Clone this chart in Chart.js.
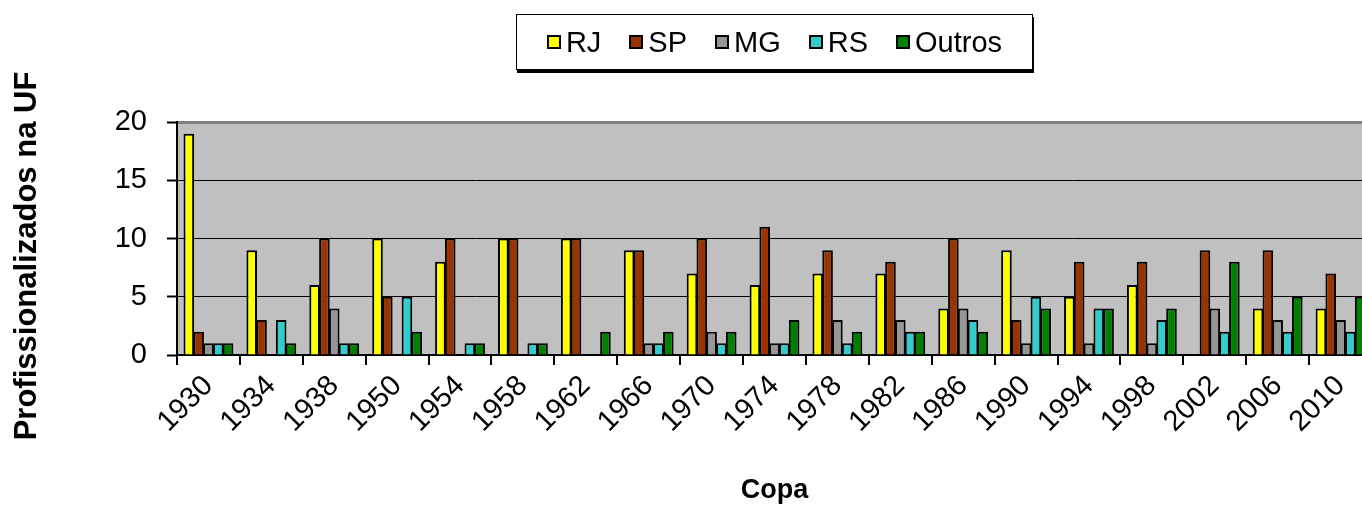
<!DOCTYPE html>
<html>
<head>
<meta charset="utf-8">
<script src="https://cdn.jsdelivr.net/npm/chart.js@4/dist/chart.umd.min.js"></script>
<style>
  html, body { margin: 0; padding: 0; background: #fff; }
  body { width: 1362px; height: 507px; overflow: hidden; position: relative; font-family: "Liberation Sans", Arial, sans-serif; }
  #wrap { position: absolute; left: 0; top: 0; width: 1380px; height: 507px; }
  #legend {
    position: absolute; left: 516px; top: 14px; width: 515px; height: 54px;
    border: 1px solid #000; box-shadow: 1px 3px 0 #000; background: #fff;
    display: flex; align-items: center; justify-content: center;
    font-size: 29px; color: #000;
  }
  #legend span.item { display: flex; align-items: center; margin: 0 14px; }
  #legend span.sw { width: 10px; height: 10px; border: 2px solid #000; margin-right: 5px; }
</style>
</head>
<body>
<div id="wrap"><canvas id="myChart" width="1380" height="507"></canvas></div>
<div id="legend"></div>
<script>
// Copas
var copas = ['1930','1934','1938','1950','1954','1958','1962','1966','1970','1974',
             '1978','1982','1986','1990','1994','1998','2002','2006','2010'];

var rj     = [19, 9, 6, 10, 8, 10, 10, 9, 7, 6, 7, 7, 4, 9, 5, 6, 0, 4, 4];
var sp     = [ 2, 3,10,  5,10, 10, 10, 9,10,11, 9, 8,10, 3, 8, 8, 9, 9, 7];
var mg     = [ 1, 0, 4,  0, 0,  0,  0, 1, 2, 1, 3, 3, 4, 1, 1, 1, 4, 3, 3];
var rs     = [ 1, 3, 1,  5, 1,  1,  0, 1, 1, 1, 1, 2, 3, 5, 4, 3, 2, 2, 2];
var outros = [ 1, 1, 1,  2, 1,  1,  2, 2, 2, 3, 2, 2, 2, 4, 4, 4, 8, 5, 5];

var yTicks = [0, 5, 10, 15, 20];

var series = [
  {label: 'RJ', data: rj, color: '#ffff00'},
  {label: 'SP', data: sp, color: '#993300'},
  {label: 'MG', data: mg, color: '#969696'},
  {label: 'RS', data: rs, color: '#33cccc'},
  {label: 'Outros', data: outros, color: '#008000'}
];

// legenda em html
var leg = document.getElementById('legend');
series.forEach(function(s) {
  var it = document.createElement('span');
  it.className = 'item';
  it.innerHTML = '<span class="sw" style="background:' + s.color + '"></span>' + s.label;
  leg.appendChild(it);
});

var plotBg = {
  id: 'plotBg',
  beforeDraw: function(chart) {
    var a = chart.chartArea, c = chart.ctx;
    c.save();
    c.fillStyle = '#c0c0c0';
    c.fillRect(a.left, a.top, a.right - a.left, a.bottom - a.top);
    c.restore();
  },
  afterDraw: function(chart) {
    var c = chart.ctx;
    c.save();
    c.translate(27, 256);
    c.rotate(-Math.PI / 2);
    c.font = 'bold 31px "Liberation Sans", Arial, sans-serif';
    c.fillStyle = '#000';
    c.textAlign = 'center';
    c.textBaseline = 'middle';
    c.fillText('Profissionalizados na UF', 0, 0);
    c.restore();
  }
};

var ctx = document.getElementById('myChart').getContext('2d');
var myChart = new Chart(ctx, {
  type: 'bar',
  data: {
    labels: copas,
    datasets: series.map(function(s) {
      return {
        label: s.label,
        data: s.data,
        backgroundColor: s.color,
        borderColor: '#000',
        borderWidth: 2,
        borderSkipped: 'bottom',
        categoryPercentage: 0.78,
        barPercentage: 1.08
      };
    })
  },
  options: {
    responsive: false,
    animation: false,
    layout: { padding: { top: 122, right: 8, left: 0, bottom: 0 } },
    plugins: { legend: { display: false }, tooltip: { enabled: false } },
    scales: {
      x: {
        afterFit: function(s) { s.height = 152; },
        grid: { display: true, drawOnChartArea: false, offset: true, color: '#000', tickLength: 10, lineWidth: 2 },
        border: { color: '#000', width: 2 },
        ticks: {
          color: '#000', minRotation: 45, maxRotation: 45, padding: 4,
          font: { family: '"Liberation Sans", Arial, sans-serif', size: 29 }
        },
        title: {
          display: true, text: 'Copa', color: '#000', padding: { top: 2, bottom: 0 },
          font: { family: '"Liberation Sans", Arial, sans-serif', size: 27, weight: 'bold' }
        }
      },
      y: {
        min: 0, max: 20,
        afterFit: function(s) { s.width = 177; },
        afterBuildTicks: function(s) { s.ticks = yTicks.map(function(v) { return {value: v}; }); },
        grid: {
          color: function(c) { return c.tick && c.tick.value === 20 ? '#808080' : '#000'; },
          lineWidth: function(c) { return c.tick && c.tick.value === 20 ? 3 : 1; },
          tickColor: '#000', tickWidth: 2, tickLength: 10
        },
        border: { color: '#000', width: 2 },
        ticks: {
          color: '#000', padding: 20,
          font: { family: '"Liberation Sans", Arial, sans-serif', size: 29 }
        }
      }
    }
  },
  plugins: [plotBg]
});
</script>
</body>
</html>
